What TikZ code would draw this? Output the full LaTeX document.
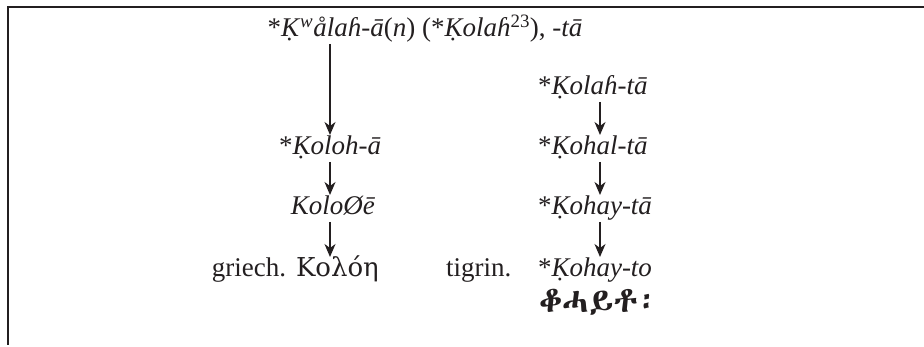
\documentclass[tikz,border=0pt]{standalone}
\usepackage{fontspec}
\setmainfont{Liberation Serif}
\newfontfamily\greekfont{DejaVu Serif}
\IfFontExistsTF{Abyssinica SIL}{\newfontfamily\ethfont{Abyssinica SIL}}{%
  \IfFontExistsTF{FreeSerif}{\newfontfamily\ethfont{FreeSerif}}{\newfontfamily\ethfont{DejaVu Sans}}}
\usetikzlibrary{arrows.meta, positioning}
\definecolor{ink}{HTML}{231F20}
\tikzset{
  form/.style     ={inner sep=0pt, outer sep=1pt, text height=19pt, text depth=6pt,
                    font=\fontsize{27}{32}\selectfont, text=ink},
  formcol/.style  ={form, anchor=base west},
  ethform/.style  ={form, anchor=base west, font=\fontsize{35}{40}\selectfont\ethfont\bfseries},
  flow/.style     ={-{Stealth[length=13pt, width=11pt, inset=4pt]}, line width=1.3pt, draw=ink},
  frameline/.style={line width=2.3pt, draw=ink},
}
\newcommand{\Kd}{\d{K}}

\begin{document}
\begin{tikzpicture}[x=1pt, y=1pt]
    \useasboundingbox (0,0) rectangle (924,-347);
    \draw[frameline] (8,-345) -- (8,-7) -- (924,-7);

    \node[form, anchor=base] (root) at (425,-37) {*\textit{\Kd}\textsuperscript{\itshape w}\textit{ålaɦ-ā}(\textit{n}) (*\textit{\Kd olaɦ}\textsuperscript{23}), \textit{-tā}};
    \node[form, anchor=base] (koloh) at (330,-155) {*\textit{\Kd oloh-ā}};
    \node[form, anchor=base] (kolooe) at (333,-215) {\textit{KoloØē}};
    \node[form, anchor=base] (griech) at (249,-277) {griech.};
    \node[form, anchor=base west, font=\fontsize{26}{30}\selectfont\greekfont] (kolee) at (295,-277) {Κολόη};
    \node[form, anchor=base west] (tigrin) at (445,-277) {tigrin.};

    \coordinate (colx) at (600,0);
    \node[formcol] (kolah) at (537,-95) {*\textit{\Kd olaɦ-tā}};
    \node[formcol] (kohal) at (537,-155) {*\textit{\Kd ohal-tā}};
    \node[formcol] (kohayta) at (537,-215) {*\textit{\Kd ohay-tā}};
    \node[formcol] (kohayto) at (537,-277) {*\textit{\Kd ohay-to}};
    \node[ethform] (geez) at (538,-313) {ቆሓይቶ፡};

    \draw[flow] (root.south -| koloh.north) -- (koloh.north);
    \draw[flow] (koloh.south) -- (koloh.south |- kolooe.north);
    \draw[flow] (kolooe.south -| koloh.south) -- (koloh.south |- kolee.north);
    \draw[flow] (kolah.south -| colx) -- (kohal.north -| colx);
    \draw[flow] (kohal.south -| colx) -- (kohayta.north -| colx);
    \draw[flow] (kohayta.south -| colx) -- (kohayto.north -| colx);
  \end{tikzpicture}
\end{document}
